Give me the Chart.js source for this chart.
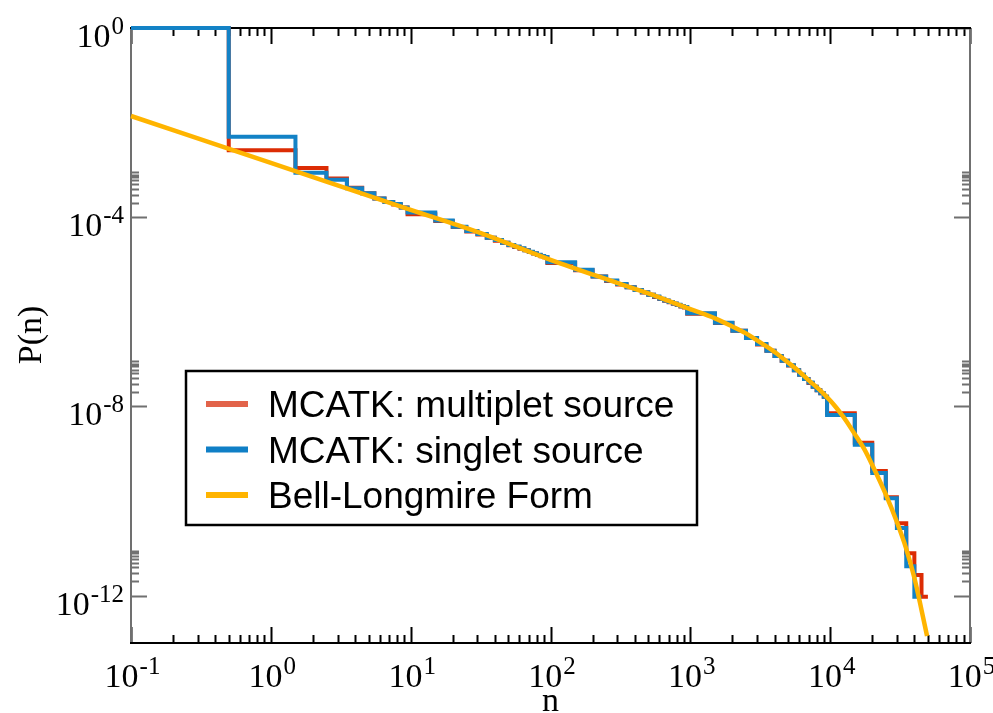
<!DOCTYPE html>
<html>
<head>
<meta charset="utf-8">
<script src="https://cdn.jsdelivr.net/npm/chart.js@4.4.0/dist/chart.umd.min.js"></script>
<style>
  body { margin: 0; background: #fff; }
  #wrap { width: 993px; height: 713px; }
</style>
</head>
<body>
<div id="wrap"><canvas id="myChart" width="993" height="713"></canvas></div>
<script>
// left edge of every histogram bin, last entry closes the final bin
const binEdges = [0.1, 0.5, 1.5, 2.5, 3.5, 4.5, 5.5, 6.5, 7.5, 8.5, 9.5,
  15, 20, 25, 30, 35, 40, 45, 50, 55, 60, 65, 70, 75, 80, 85, 90, 95,
  150, 200, 250, 300, 350, 400, 450, 500, 550, 600, 650, 700, 750, 800, 850, 900, 950,
  1500, 2000, 2500, 3000, 3500, 4000, 4500, 5000, 5500, 6000, 6500, 7000, 7500, 8000, 8500, 9000, 9500,
  15000, 20000, 25000, 30000, 35000, 40000, 45000, 50000];

const multipletP = [1.0, 2.6e-3, 1.1e-3, 6.6e-4, 4.2e-4, 3.2e-4, 2.5e-4, 2.1e-4, 1.85e-4, 1.6e-4,
  1.15e-4, 8.3e-5, 6.2e-5, 5.0e-5, 4.3e-5, 3.7e-5, 3.2e-5, 2.9e-5, 2.55e-5, 2.35e-5, 2.15e-5, 2.0e-5, 1.84e-5, 1.72e-5, 1.6e-5, 1.5e-5, 1.42e-5,
  1.08e-5, 7.6e-6, 5.6e-6, 4.5e-6, 3.8e-6, 3.3e-6, 2.9e-6, 2.55e-6, 2.3e-6, 2.05e-6, 1.88e-6, 1.72e-6, 1.6e-6, 1.49e-6, 1.39e-6, 1.3e-6, 1.23e-6,
  9.1e-7, 5.8e-7, 4.0e-7, 2.8e-7, 2.05e-7, 1.5e-7, 1.16e-7, 9.2e-8, 7.3e-8, 5.8e-8, 4.7e-8, 3.8e-8, 3.15e-8, 2.6e-8, 2.2e-8, 1.9e-8, 1.6e-8,
  7.2e-9, 1.7e-9, 4.3e-10, 1.2e-10, 3.4e-11, 7.9e-12, 2.75e-12, 9.5e-13];

const singletP = [1.0, 5.0e-3, 8.7e-4, 6.2e-4, 4.1e-4, 3.2e-4, 2.5e-4, 2.1e-4, 1.9e-4, 1.6e-4,
  1.26e-4, 8.5e-5, 6.3e-5, 5.1e-5, 4.4e-5, 3.7e-5, 3.3e-5, 2.9e-5, 2.6e-5, 2.4e-5, 2.2e-5, 2.0e-5, 1.86e-5, 1.74e-5, 1.62e-5, 1.51e-5, 1.45e-5,
  1.12e-5, 7.8e-6, 5.6e-6, 4.6e-6, 3.9e-6, 3.3e-6, 2.9e-6, 2.6e-6, 2.3e-6, 2.1e-6, 1.9e-6, 1.74e-6, 1.62e-6, 1.51e-6, 1.41e-6, 1.32e-6, 1.26e-6,
  9.3e-7, 5.9e-7, 4.0e-7, 2.8e-7, 2.1e-7, 1.5e-7, 1.17e-7, 9.3e-8, 7.4e-8, 5.8e-8, 4.7e-8, 3.8e-8, 3.2e-8, 2.6e-8, 2.2e-8, 1.9e-8, 1.6e-8,
  6.6e-9, 1.55e-9, 3.9e-10, 1.15e-10, 2.7e-11, 4.2e-12, 9.5e-13];

const bellN = [0.1, 1, 10, 30, 100, 300, 500, 1000, 1500, 2000, 2500, 3000, 4000, 5000, 6000, 7000,
  8000, 9000, 10000, 11000, 12000, 13000, 15000, 17500, 20000, 25000, 30000, 35000, 40000, 45000, 49300];
const bellP = [1.38e-2, 1.41e-3, 1.43e-4, 4.9e-5, 1.26e-5, 4.1e-6, 2.45e-6, 1.14e-6, 7.3e-7, 4.9e-7, 3.5e-7, 2.5e-7, 1.43e-7, 8.5e-8, 5.5e-8, 3.6e-8,
  2.56e-8, 1.85e-8, 1.33e-8, 9.6e-9, 6.9e-9, 5.0e-9, 2.6e-9, 1.27e-9, 5.8e-10, 1.38e-10, 3.6e-11, 9.8e-12, 2.4e-12, 5.0e-13, 1.4e-13];

const xDecades = [-1, 0, 1, 2, 3, 4, 5];
const yLabelDecades = [0, -4, -8, -12];
const legendLabels = ['MCATK: multiplet source', 'MCATK: singlet source', 'Bell-Longmire Form'];
const legendColors = ['#e2634a', '#0f7fc6', '#ffb400'];

const RED = '#dc2c04';
const BLUE = '#1382c6';
const ORANGE = '#ffb400';
const SERIF = "'Liberation Serif', 'Times New Roman', serif";
const SANS = "'Liberation Sans', Arial, sans-serif";

function stepPoints(values) {
  let pts = values.map((v, i) => ({ x: binEdges[i], y: v }));
  pts.push({ x: binEdges[values.length], y: values[values.length - 1] });
  return pts;
}

function drawPow(ctx, exp, x, y, align) {
  // "10" with superscript exponent, y is baseline of the "10"
  ctx.font = '34px ' + SERIF;
  let wBase = ctx.measureText('10').width;
  ctx.font = '25px ' + SERIF;
  let sup = String(exp);
  let wSup = ctx.measureText(sup).width;
  let left = align === 'right' ? x - wBase - wSup : x - (wBase + wSup) / 2;
  ctx.fillStyle = '#000';
  ctx.textAlign = 'left';
  ctx.textBaseline = 'alphabetic';
  ctx.font = '34px ' + SERIF;
  ctx.fillText('10', left, y);
  ctx.font = '25px ' + SERIF;
  ctx.fillText(sup, left + wBase + 1, y - 13);
}

const graceAxes = {
  id: 'graceAxes',
  beforeDatasetsDraw(chart) {
    const ctx = chart.ctx;
    const a = chart.chartArea;
    const xs = chart.scales.x;
    const ys = chart.scales.y;
    ctx.save();
    ctx.lineWidth = 2;

    // x ticks, bottom and top
    ctx.strokeStyle = '#000';
    ctx.beginPath();
    xDecades.forEach(k => {
      let px = Math.round(xs.getPixelForValue(Math.pow(10, k))) + 0.5;
      ctx.moveTo(px, a.bottom); ctx.lineTo(px, a.bottom - 16);
      ctx.moveTo(px, a.top); ctx.lineTo(px, a.top + 16);
      if (k < 5) {
        for (let m = 2; m <= 9; m++) {
          let mx = Math.round(xs.getPixelForValue(m * Math.pow(10, k))) + 0.5;
          ctx.moveTo(mx, a.bottom); ctx.lineTo(mx, a.bottom - 8);
          ctx.moveTo(mx, a.top); ctx.lineTo(mx, a.top + 8);
        }
      }
    });
    ctx.stroke();

    // y ticks, left and right
    ctx.strokeStyle = '#707070';
    ctx.beginPath();
    yLabelDecades.forEach(k => {
      let py = Math.round(ys.getPixelForValue(Math.pow(10, k))) + 0.5;
      ctx.moveTo(a.left, py); ctx.lineTo(a.left + 16, py);
      ctx.moveTo(a.right, py); ctx.lineTo(a.right - 16, py);
      if (k < 0) {
        for (let m = 2; m <= 9; m++) {
          let my = Math.round(ys.getPixelForValue(m * Math.pow(10, k))) + 0.5;
          ctx.moveTo(a.left, my); ctx.lineTo(a.left + 8, my);
          ctx.moveTo(a.right, my); ctx.lineTo(a.right - 8, my);
        }
      }
    });
    ctx.stroke();

    // frame
    ctx.beginPath();
    ctx.moveTo(a.left, a.top); ctx.lineTo(a.left, a.bottom);
    ctx.moveTo(a.right, a.top); ctx.lineTo(a.right, a.bottom);
    ctx.stroke();
    ctx.strokeStyle = '#000';
    ctx.beginPath();
    ctx.moveTo(a.left - 1, a.top); ctx.lineTo(a.right + 1, a.top);
    ctx.moveTo(a.left - 1, a.bottom); ctx.lineTo(a.right + 1, a.bottom);
    ctx.stroke();
    ctx.restore();
  },
  afterDraw(chart) {
    const ctx = chart.ctx;
    const a = chart.chartArea;
    const xs = chart.scales.x;
    const ys = chart.scales.y;
    ctx.save();

    xDecades.forEach(k => {
      drawPow(ctx, k, xs.getPixelForValue(Math.pow(10, k)) + 1, a.bottom + 44, 'center');
    });
    yLabelDecades.forEach(k => {
      drawPow(ctx, k, a.left - 8, ys.getPixelForValue(Math.pow(10, k)) + 19, 'right');
    });

    // axis titles
    ctx.fillStyle = '#000';
    ctx.font = '34px ' + SERIF;
    ctx.textAlign = 'center';
    ctx.textBaseline = 'alphabetic';
    ctx.fillText('n', (a.left + a.right) / 2, 711);
    ctx.save();
    ctx.translate(41, 335);
    ctx.rotate(-Math.PI / 2);
    ctx.fillText('P(n)', 0, 0);
    ctx.restore();

    // legend box
    ctx.fillStyle = '#fff';
    ctx.fillRect(186, 371, 511, 154);
    ctx.strokeStyle = '#000';
    ctx.lineWidth = 2.5;
    ctx.strokeRect(186, 371, 511, 154);
    ctx.font = '37px ' + SANS;
    ctx.textAlign = 'left';
    legendLabels.forEach((lab, i) => {
      let cy = 404 + i * 45.5;
      ctx.strokeStyle = legendColors[i];
      ctx.lineWidth = 6;
      ctx.beginPath();
      ctx.moveTo(206, cy); ctx.lineTo(248, cy);
      ctx.stroke();
      ctx.fillStyle = '#000';
      ctx.fillText(lab, 268, cy + 13);
    });
    ctx.restore();
  }
};

const ctx = document.getElementById('myChart');
const myChart = new Chart(ctx, {
  type: 'line',
  data: {
    datasets: [
      {
        label: legendLabels[2],
        data: bellN.map((n, i) => ({ x: n, y: bellP[i] })),
        borderColor: ORANGE,
        borderWidth: 4.5,
        cubicInterpolationMode: 'monotone',
        pointRadius: 0,
        fill: false,
        clip: false,
        order: 1
      },
      {
        label: legendLabels[1],
        data: stepPoints(singletP),
        borderColor: BLUE,
        borderWidth: 4,
        stepped: 'before',
        pointRadius: 0,
        fill: false,
        clip: false,
        order: 2
      },
      {
        label: legendLabels[0],
        data: stepPoints(multipletP),
        borderColor: RED,
        borderWidth: 4,
        stepped: 'before',
        pointRadius: 0,
        fill: false,
        clip: false,
        order: 3
      }
    ]
  },
  options: {
    responsive: false,
    animation: false,
    layout: { padding: { left: 131, top: 28, right: 23, bottom: 70 } },
    plugins: { legend: { display: false }, tooltip: { enabled: false } },
    scales: {
      x: { type: 'logarithmic', min: 0.1, max: 1e5, display: false },
      y: { type: 'logarithmic', min: 1e-13, max: 1, display: false }
    }
  },
  plugins: [graceAxes]
});
</script>
</body>
</html>
